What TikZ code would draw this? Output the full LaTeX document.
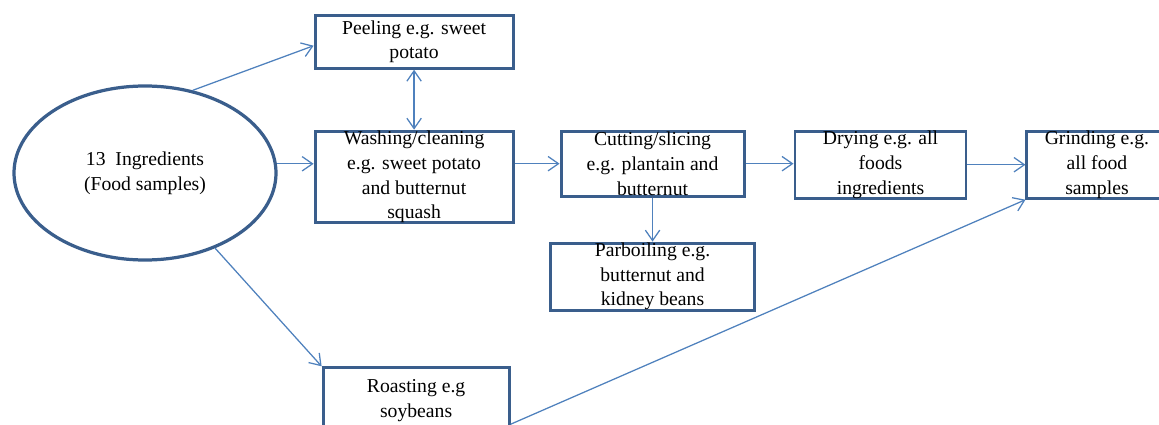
\documentclass[tikz,border=0pt]{standalone}
\usepackage{fontspec}
\setmainfont{Liberation Serif}
\usepackage{xcolor}
\usepackage{tikz}
\usetikzlibrary{positioning, arrows.meta, shapes.geometric}

\definecolor{boxblue}{RGB}{58,94,140}
\definecolor{arrowblue}{RGB}{79,129,189}

\begin{document}
\begin{tikzpicture}[
        >={Straight Barb[length=2.6mm, width=3.6mm]},
        txt/.style={font=\fontsize{14}{17.5}\selectfont, align=center, inner sep=0pt},
        stepbox/.style={txt, rectangle, draw=boxblue, line width=2.1pt, minimum height=1.625cm},
        ingrnode/.style={txt, ellipse, draw=boxblue, line width=2.3pt, minimum width=6.55cm, minimum height=4.35cm},
        arrow/.style={->, line width=0.9pt, draw=arrowblue},
    ]
    \useasboundingbox (0,0) rectangle (28.975,-10.625);

    % === SOURCE ===
    \node[ingrnode] (ingr) at (3.625,-4.325) {13~ Ingredients\\(Food samples)};

    % === MAIN ROW ===
    \node[stepbox, minimum width=4.95cm, minimum height=2.25cm, right=0.9cm of ingr, yshift=-0.1cm] (wash) {Washing/cleaning\\e.g. sweet potato\\and butternut\\squash};
    \node[stepbox, minimum width=4.95cm, minimum height=1.325cm, above=1.5cm of wash] (peel) {Peeling e.g. sweet\\potato};
    \node[stepbox, minimum width=4.575cm, right=1.125cm of wash.north east, anchor=north west] (cut) {Cutting/slicing\\e.g. plantain and\\butternut};
    \node[stepbox, minimum width=4.275cm, right=1.2cm of cut.north east, anchor=north west] (dry) {Drying e.g. all\\foods\\ingredients};
    \node[stepbox, minimum width=3.5cm, right=1.45cm of dry.north east, anchor=north west] (grind) {Grinding e.g.\\all food\\samples};

    % === SIDE STEPS ===
    \node[stepbox, minimum width=5.1cm, below=1.1cm of cut] (parb) {Parboiling e.g.\\butternut and\\kidney beans};
    \node[stepbox, minimum width=4.65cm, minimum height=1.65cm, below=3.55cm of wash, xshift=0.05cm] (roast) {Roasting e.g\\soybeans};

    % === ARROWS ===
    \draw[arrow] (ingr.60) -- ([yshift=-0.1cm]peel.west);
    \draw[arrow, <->] (peel.south) -- (wash.north);
    \draw[arrow] (ingr.4) -- (ingr.4 -| wash.west);
    \draw[arrow] (cut.west -| wash.east) -- (cut.west);
    \draw[arrow] (cut.east) -- (cut.east -| dry.west);
    \draw[arrow] (dry.east) -- (dry.east -| grind.west);
    \draw[arrow] (cut.south) -- (parb.north);
    \draw[arrow] (ingr.-47) -- (roast.north west);
    \draw[arrow] ([yshift=0.275cm]roast.south east) -- (grind.south west);

\end{tikzpicture}
\end{document}
